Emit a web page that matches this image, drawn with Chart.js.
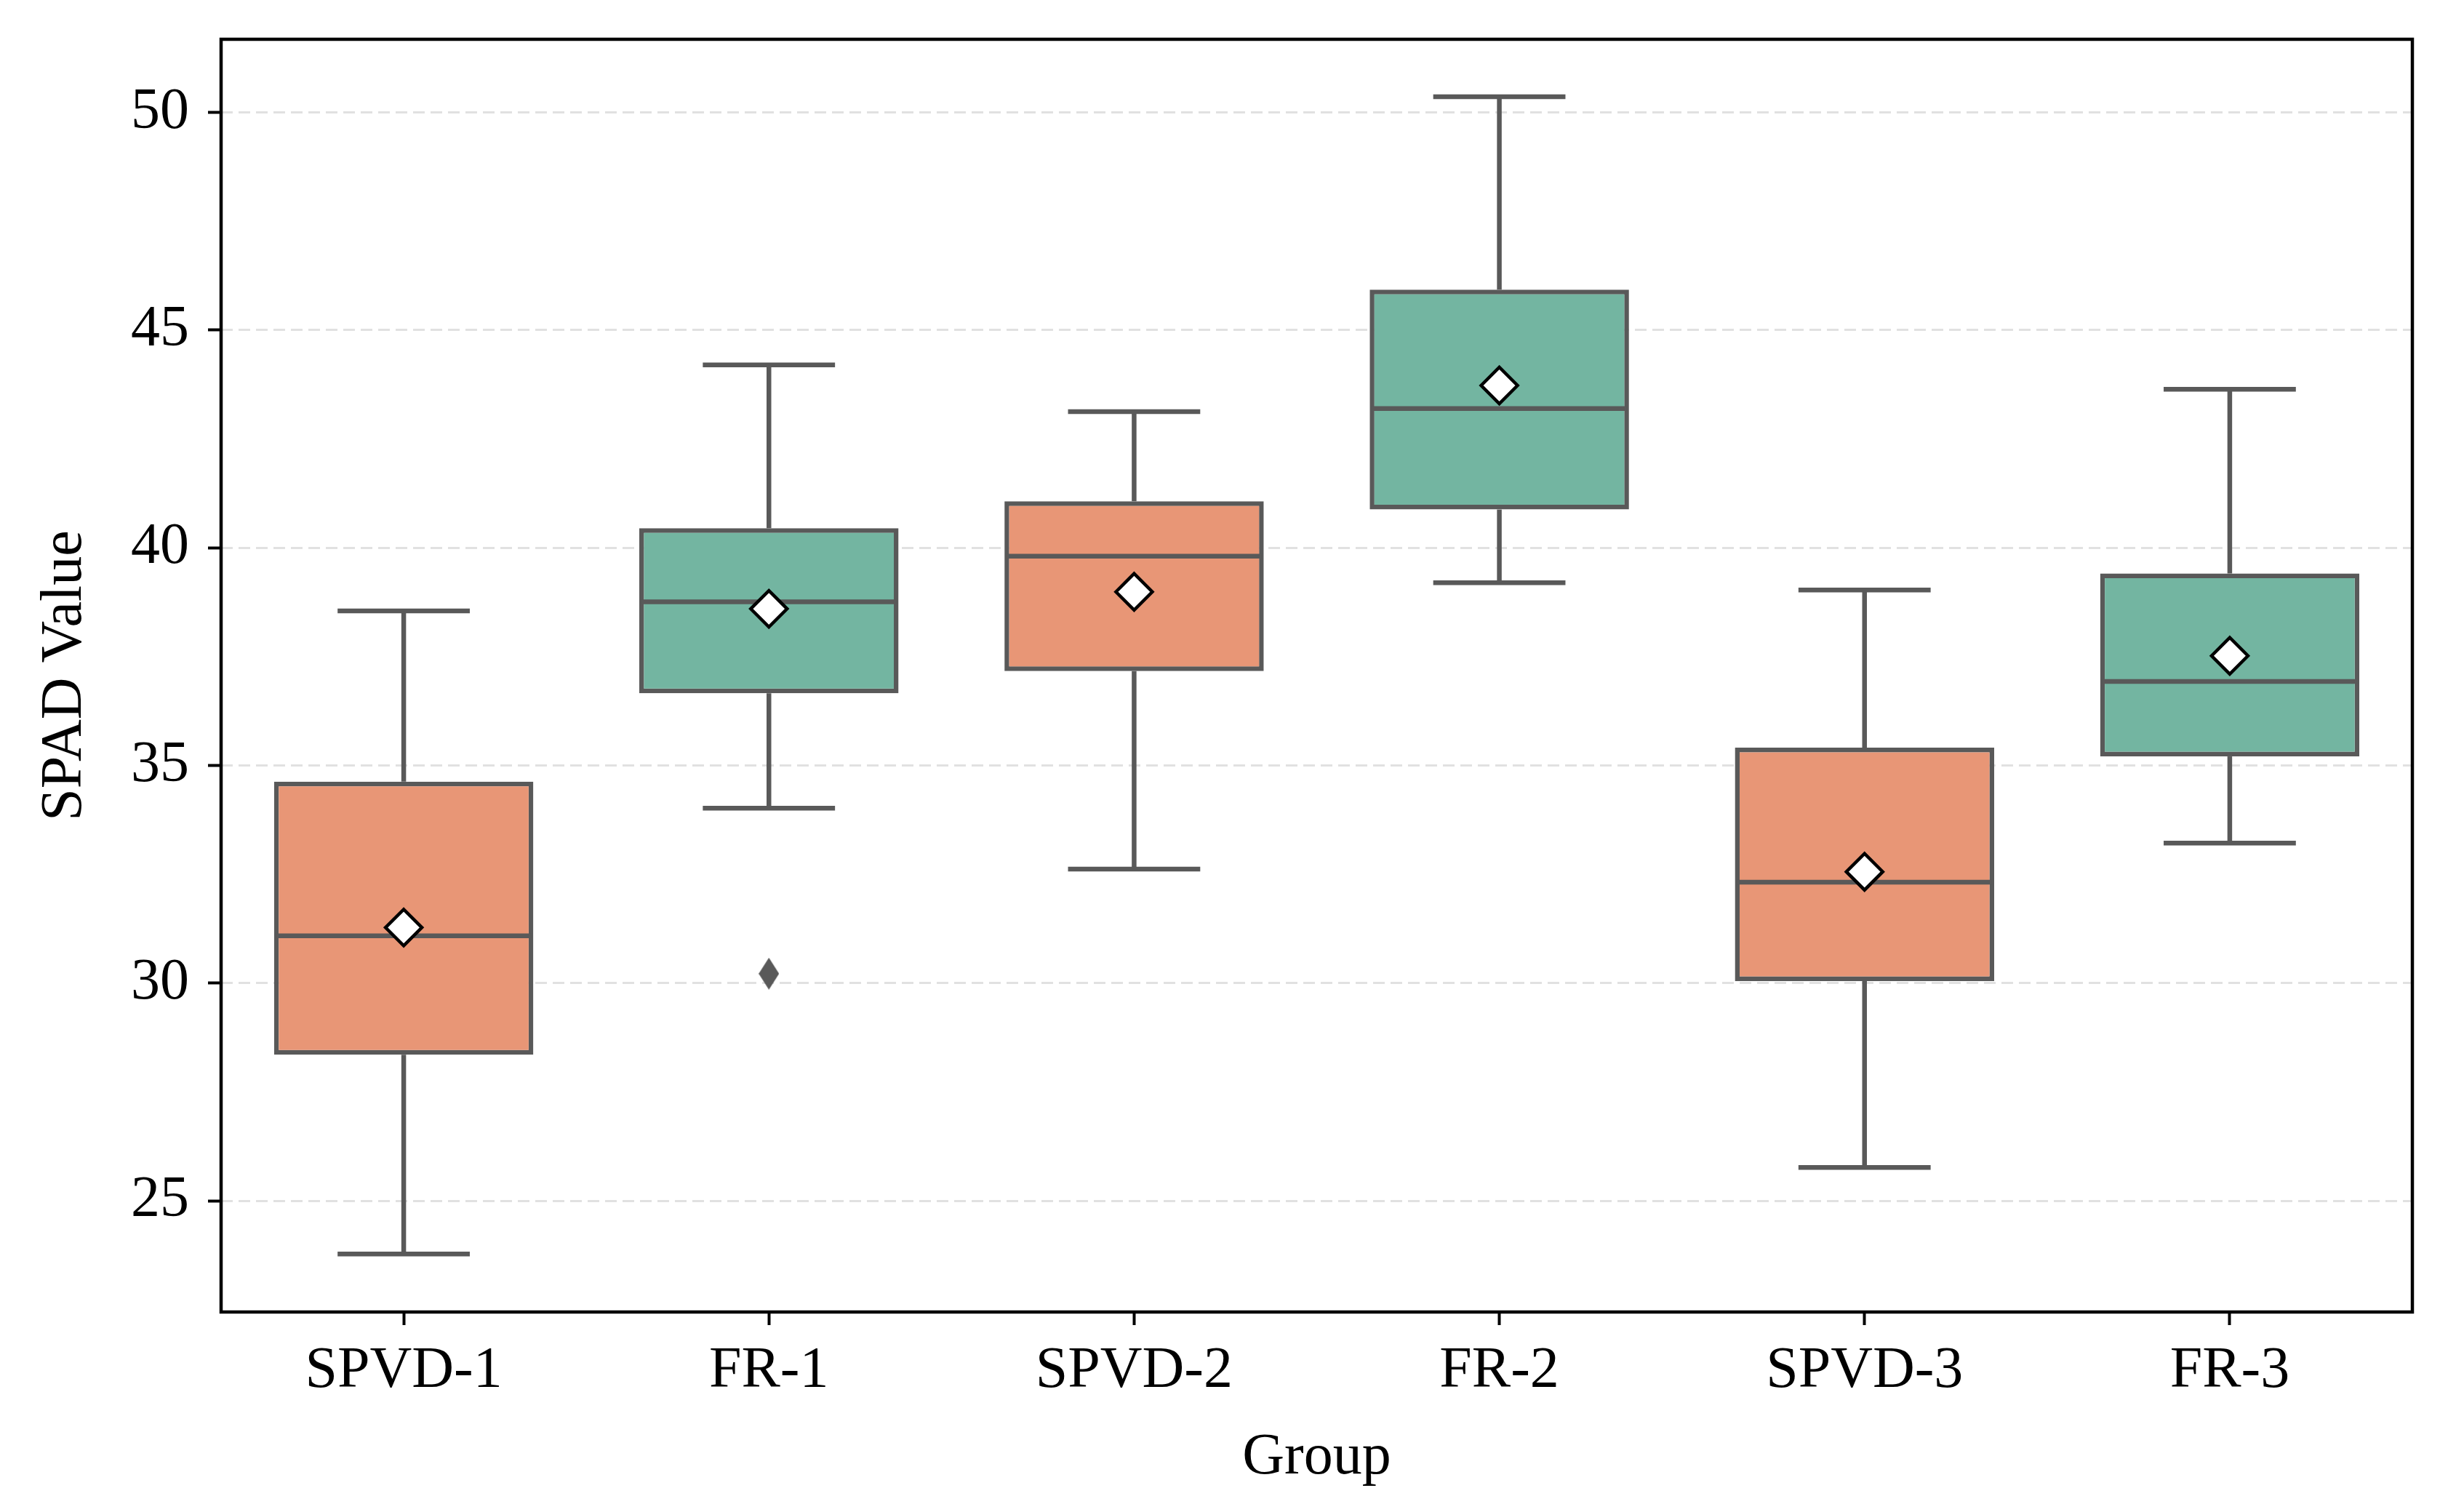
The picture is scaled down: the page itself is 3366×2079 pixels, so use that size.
<!DOCTYPE html>
<html>
<head>
<meta charset="utf-8">
<script src="https://cdn.jsdelivr.net/npm/chart.js@4.4.1/dist/chart.umd.min.js"></script>
<style>
  html, body { margin: 0; padding: 0; background: #fff; }
  #wrap { width: 3366px; height: 2079px; }
</style>
</head>
<body>
<div id="wrap"><canvas id="spadChart" width="3366" height="2079"></canvas></div>
<script>
// values
var categories = ["SPVD-1", "FR-1", "SPVD-2", "FR-2", "SPVD-3", "FR-3"];
var whiskerLow = [23.78, 34.02, 32.62, 39.20, 25.77, 33.22];
var q1 = [28.36, 36.66, 37.17, 40.88, 30.05, 35.21];
var medians = [31.09, 38.76, 39.81, 43.20, 32.32, 36.93];
var q3 = [34.63, 40.45, 41.07, 45.93, 35.41, 39.41];
var whiskerHigh = [38.55, 44.20, 43.13, 50.36, 39.03, 43.64];
var means = [31.28, 38.60, 38.99, 43.73, 32.56, 37.52];
var outliers = [null, 30.22, null, null, null, null];
var yTicks = [25, 30, 35, 40, 45, 50];

// styles
var ORANGE = "#E89676";
var GREEN = "#73B5A1";
var EDGE = "#595959";
var EDGE_W = 6.5;
var FONT = { family: "'Liberation Serif', 'Times New Roman', serif", size: 80 };

document.addEventListener("DOMContentLoaded", function() {
  var canvas = document.getElementById("spadChart");
  var ctx = canvas.getContext("2d");

  // thin diamond for the flier
  var flier = document.createElement("canvas");
  flier.width = 28;
  flier.height = 44;
  var fctx = flier.getContext("2d");
  fctx.fillStyle = EDGE;
  fctx.beginPath();
  fctx.moveTo(14, 0);
  fctx.lineTo(28, 22);
  fctx.lineTo(14, 44);
  fctx.lineTo(0, 22);
  fctx.closePath();
  fctx.fill();

  var boxIndex = 2;

  var boxPlugin = {
    id: "boxWhiskers",
    afterDatasetDraw: function(chart, args) {
      if (args.index !== boxIndex) return;
      var c = chart.ctx;
      var x = chart.scales.x, y = chart.scales.y;
      var step = x.getPixelForValue(1) - x.getPixelForValue(0);
      var capHalf = step * 0.181;
      c.save();
      c.strokeStyle = EDGE;
      c.lineWidth = EDGE_W;
      c.lineCap = "butt";
      function line(x1, y1, x2, y2) {
        c.beginPath();
        c.moveTo(x1, y1);
        c.lineTo(x2, y2);
        c.stroke();
      }
      categories.forEach(function(cat, i) {
        var cx = x.getPixelForValue(i);
        var half = args.meta.data[i].width / 2;
        var yHi = y.getPixelForValue(whiskerHigh[i]);
        var yLo = y.getPixelForValue(whiskerLow[i]);
        line(cx, y.getPixelForValue(q3[i]), cx, yHi);
        line(cx - capHalf, yHi, cx + capHalf, yHi);
        line(cx, y.getPixelForValue(q1[i]), cx, yLo);
        line(cx - capHalf, yLo, cx + capHalf, yLo);
        var yMed = y.getPixelForValue(medians[i]);
        line(cx - half + EDGE_W / 2, yMed, cx + half - EDGE_W / 2, yMed);
      });
      c.restore();
    },
    afterDraw: function(chart) {
      var a = chart.chartArea;
      var c = chart.ctx;
      c.save();
      c.strokeStyle = "#000";
      c.lineWidth = 4.5;
      c.strokeRect(a.left, a.top, a.right - a.left, a.bottom - a.top);
      c.restore();
    }
  };

  new Chart(ctx, {
    type: "bar",
    data: {
      labels: categories,
      datasets: [
        {
          type: "line",
          label: "mean",
          data: means,
          showLine: false,
          pointStyle: "rectRot",
          pointRadius: 25,
          pointBackgroundColor: "#fff",
          pointBorderColor: "#000",
          pointBorderWidth: 4.5,
          order: 0
        },
        {
          type: "line",
          label: "outliers",
          data: outliers,
          showLine: false,
          pointStyle: flier,
          pointRadius: 14,
          order: 1
        },
        {
          label: "box",
          data: categories.map(function(c, i) { return [q1[i], q3[i]]; }),
          backgroundColor: categories.map(function(c, i) { return i % 2 === 0 ? ORANGE : GREEN; }),
          borderColor: EDGE,
          borderWidth: EDGE_W,
          borderSkipped: false,
          inflateAmount: 0,
          barPercentage: 0.71,
          categoryPercentage: 1.0,
          order: 2
        }
      ]
    },
    options: {
      responsive: false,
      animation: false,
      layout: { padding: { top: 54, right: 49, left: 0, bottom: 0 } },
      plugins: {
        legend: { display: false },
        tooltip: { enabled: false }
      },
      scales: {
        x: {
          type: "category",
          offset: true,
          grid: {
            display: true,
            drawOnChartArea: false,
            drawTicks: true,
            offset: false,
            tickLength: 18,
            tickWidth: 4,
            tickColor: "#000"
          },
          border: { display: false },
          ticks: { font: FONT, color: "#000", padding: 16, maxRotation: 0, autoSkip: false },
          title: { display: true, text: "Group", font: FONT, color: "#000", padding: { top: 0, bottom: 26 } },
          afterFit: function(scale) { scale.height = 275; }
        },
        y: {
          min: 22.45,
          max: 51.68,
          z: 1,
          afterBuildTicks: function(scale) {
            scale.ticks = yTicks.map(function(v) { return { value: v }; });
          },
          grid: {
            color: "rgba(176,176,176,0.38)",
            lineWidth: 3,
            tickLength: 18,
            tickWidth: 4,
            tickColor: "#000",
            tickBorderDash: []
          },
          border: { display: false, dash: [16, 8] },
          ticks: { font: FONT, color: "#000", padding: 26 },
          title: { display: true, text: "SPAD Value", font: FONT, color: "#000", padding: { top: 42, bottom: 0 } },
          afterFit: function(scale) {
            scale.width = 304;
            scale.paddingTop = 0;
            scale.paddingBottom = 0;
          }
        }
      }
    },
    plugins: [boxPlugin]
  });
});
</script>
</body>
</html>
